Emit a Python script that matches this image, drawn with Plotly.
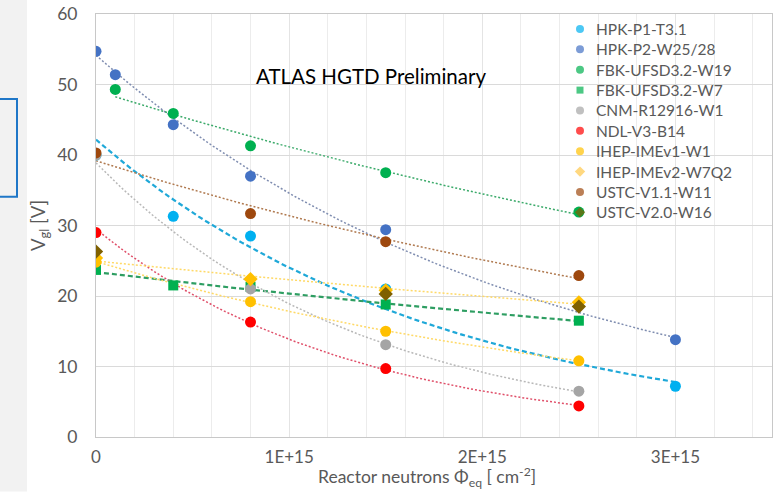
import numpy as np
import plotly.graph_objects as go

# ---- data (fluence in n/cm^2, V_gl in V) ----
names = ["HPK-P1-T3.1", "HPK-P2-W25/28", "FBK-UFSD3.2-W19", "FBK-UFSD3.2-W7",
         "CNM-R12916-W1", "NDL-V3-B14", "IHEP-IMEv1-W1", "IHEP-IMEv2-W7Q2",
         "USTC-V1.1-W11", "USTC-V2.0-W16"]

hpk_p1_x = [0, 4e14, 8e14, 1.5e15, 3e15]
hpk_p1_y = [40.0, 31.3, 28.5, 21.0, 7.2]

hpk_p2_x = [0, 1e14, 4e14, 8e14, 1.5e15, 3e15]
hpk_p2_y = [54.7, 51.4, 44.3, 37.0, 29.4, 13.8]

fbk_w19_x = [1e14, 4e14, 8e14, 1.5e15, 2.5e15]
fbk_w19_y = [49.3, 45.9, 41.3, 37.5, 31.9]

fbk_w7_x = [0, 4e14, 8e14, 1.5e15, 2.5e15]
fbk_w7_y = [23.7, 21.5, 21.3, 18.8, 16.5]

cnm_x = [0, 8e14, 1.5e15, 2.5e15]
cnm_y = [40.0, 21.0, 13.1, 6.5]

ndl_x = [0, 8e14, 1.5e15, 2.5e15]
ndl_y = [29.0, 16.3, 9.7, 4.4]

ihep1_x = [0, 8e14, 1.5e15, 2.5e15]
ihep1_y = [24.8, 19.2, 15.0, 10.8]

ihep2_x = [0, 8e14, 1.5e15, 2.5e15]
ihep2_y = [25.4, 22.4, 20.8, 19.1]

ustc11_x = [0, 8e14, 1.5e15, 2.5e15]
ustc11_y = [40.3, 31.7, 27.7, 22.9]

ustc20_x = [0, 1.5e15, 2.5e15]
ustc20_y = [26.3, 20.3, 18.5]

xs = [hpk_p1_x, hpk_p2_x, fbk_w19_x, fbk_w7_x, cnm_x, ndl_x, ihep1_x, ihep2_x, ustc11_x, ustc20_x]
ys = [hpk_p1_y, hpk_p2_y, fbk_w19_y, fbk_w7_y, cnm_y, ndl_y, ihep1_y, ihep2_y, ustc11_y, ustc20_y]

x_tickvals = [0, 1e15, 2e15, 3e15]
x_ticktext = ["0", "1E+15", "2E+15", "3E+15"]

# ---- styles ----
colors = ["#00B0F0", "#4472C4", "#00B050", "#00B050", "#A5A5A5",
          "#FF0000", "#FFC000", "#FFC000", "#9E480E", "#7F6000"]
legend_colors = ["#00B0F0", "#4472C4", "#00B050", "#00B050", "#A5A5A5",
                 "#FF0000", "#FFC000", "#FFC84A", "#9E480E", "#7F6000"]
symbols = ["circle", "circle", "circle", "square", "circle",
           "circle", "circle", "diamond", "circle", "diamond"]
trend_dash = ["5px,3px", "2px,2px", "2px,2px", "5px,3px", "2px,2px",
              "2px,2px", "2px,2px", "2px,2px", "2px,2px", None]
trend_width = [2.2, 1.5, 1.5, 2.2, 1.5, 1.5, 1.5, 1.5, 1.5, 0]
trend_colors = ["#1FA8D8", "#7F8DB0", "#3BAA6A", "#2E9E62", "#B8B8B8",
                "#E0506A", "#FFD966", "#FFD966", "#B07A50", None]
marker_size = [11, 11, 11, 10, 11, 11, 11, 11, 11, 11]
legend_marker_size = [8, 8, 8, 7, 8, 8, 8, 8, 8, 8]

# plot-area geometry in pixels (for layout placement)
PL, PR, PT, PB = 96, 772, 14, 437.5
PW, PH = PR - PL, PB - PT
def px_x(p):
    return (p - PL) / PW
def px_y(p):
    return (PB - p) / PH

LEG_MARK_X = 580
LEG_TEXT_X = 596
LEG_ROW0 = 29
LEG_ROW_H = 20.4

fig = go.Figure()

# trendlines (exponential fits of each series)
for i in range(len(names)):
    if trend_dash[i] is None:
        continue
    x = np.array(xs[i], dtype=float)
    y = np.array(ys[i], dtype=float)
    b, a = np.polyfit(x / 1e15, np.log(y), 1)
    xx = np.linspace(x.min(), x.max(), 80)
    yy = np.exp(a + b * xx / 1e15)
    fig.add_trace(go.Scatter(x=xx, y=yy, mode="lines", showlegend=False,
                             hoverinfo="skip",
                             line=dict(color=trend_colors[i], width=trend_width[i],
                                       dash=trend_dash[i])))

# data markers
for i in range(len(names)):
    fig.add_trace(go.Scatter(x=xs[i], y=ys[i], mode="markers", name=names[i],
                             showlegend=False,
                             marker=dict(color=colors[i], symbol=symbols[i],
                                         size=marker_size[i], line=dict(width=0))))

# legend (symbols on an overlay axis spanning the plot area in paper units)
leg_y = [px_y(LEG_ROW0 + k * LEG_ROW_H) for k in range(len(names))]
fig.add_trace(go.Scatter(x=[px_x(LEG_MARK_X)] * len(names), y=leg_y,
                         xaxis="x2", yaxis="y2", mode="markers",
                         showlegend=False, hoverinfo="text", hovertext=names,
                         marker=dict(color=legend_colors, symbol=symbols,
                                     size=legend_marker_size, line=dict(width=0))))

FONT = "Lato"
GRAY = "#595959"

annotations = [
    dict(text="ATLAS HGTD Preliminary", xref="paper", yref="paper",
         x=px_x(371), y=px_y(76), xanchor="center", yanchor="middle",
         showarrow=False, font=dict(family=FONT, size=20.5, color="#000000")),
    dict(text="Reactor neutrons Φ<sub>eq</sub> [ cm<sup>-2</sup>]",
         xref="paper", yref="paper", x=px_x(427), y=px_y(492),
         xanchor="center", yanchor="bottom", showarrow=False, borderpad=0,
         font=dict(family=FONT, size=17.5, color=GRAY)),
]
for k, nm in enumerate(names):
    annotations.append(dict(text=nm, xref="paper", yref="paper",
                            x=px_x(LEG_TEXT_X), y=leg_y[k],
                            xanchor="left", yanchor="middle", showarrow=False,
                            xshift=-2,
                            font=dict(family=FONT, size=15.5, color=GRAY)))

fig.update_layout(
    width=776, height=492,
    margin=dict(l=PL, r=776 - PR, t=PT, b=492 - PB),
    paper_bgcolor="white", plot_bgcolor="white",
    font=dict(family=FONT, color=GRAY, size=15),
    showlegend=False,
    xaxis=dict(range=[0, 3.5e15], tickvals=x_tickvals, ticktext=x_ticktext,
               showgrid=True, gridcolor="#E4E4E4", gridwidth=1,
               minor=dict(dtick=2e14, showgrid=True, gridcolor="#ECECEC", gridwidth=1),
               showline=True, linecolor="#C8C8C8", linewidth=1, mirror=True,
               zeroline=False, ticks="", ticklabelstandoff=5,
               tickfont=dict(size=17, color=GRAY)),
    yaxis=dict(range=[0, 60], dtick=10,
               showgrid=True, gridcolor="#DADADA", gridwidth=1,
               showline=True, linecolor="#C8C8C8", linewidth=1, mirror=True,
               zeroline=False, ticks="", ticklabelstandoff=14,
               tickfont=dict(size=17.5, color=GRAY),
               title=dict(text="V<sub>gl</sub> [V]", font=dict(size=18.5, color=GRAY),
                          standoff=6)),
    xaxis2=dict(overlaying="x", range=[0, 1], visible=False, fixedrange=True),
    yaxis2=dict(overlaying="y", range=[0, 1], visible=False, fixedrange=True),
    annotations=annotations,
    shapes=[
        dict(type="rect", xref="paper", yref="paper", layer="below",
             x0=px_x(0), x1=px_x(27), y0=px_y(492), y1=px_y(0),
             fillcolor="#F2F2F2", line=dict(width=0)),
        dict(type="rect", xref="paper", yref="paper",
             x0=px_x(-3), x1=px_x(17), y0=px_y(197), y1=px_y(99),
             line=dict(color="#1F77C8", width=2), fillcolor="rgba(0,0,0,0)"),
    ],
)

fig.write_html("out.html")
